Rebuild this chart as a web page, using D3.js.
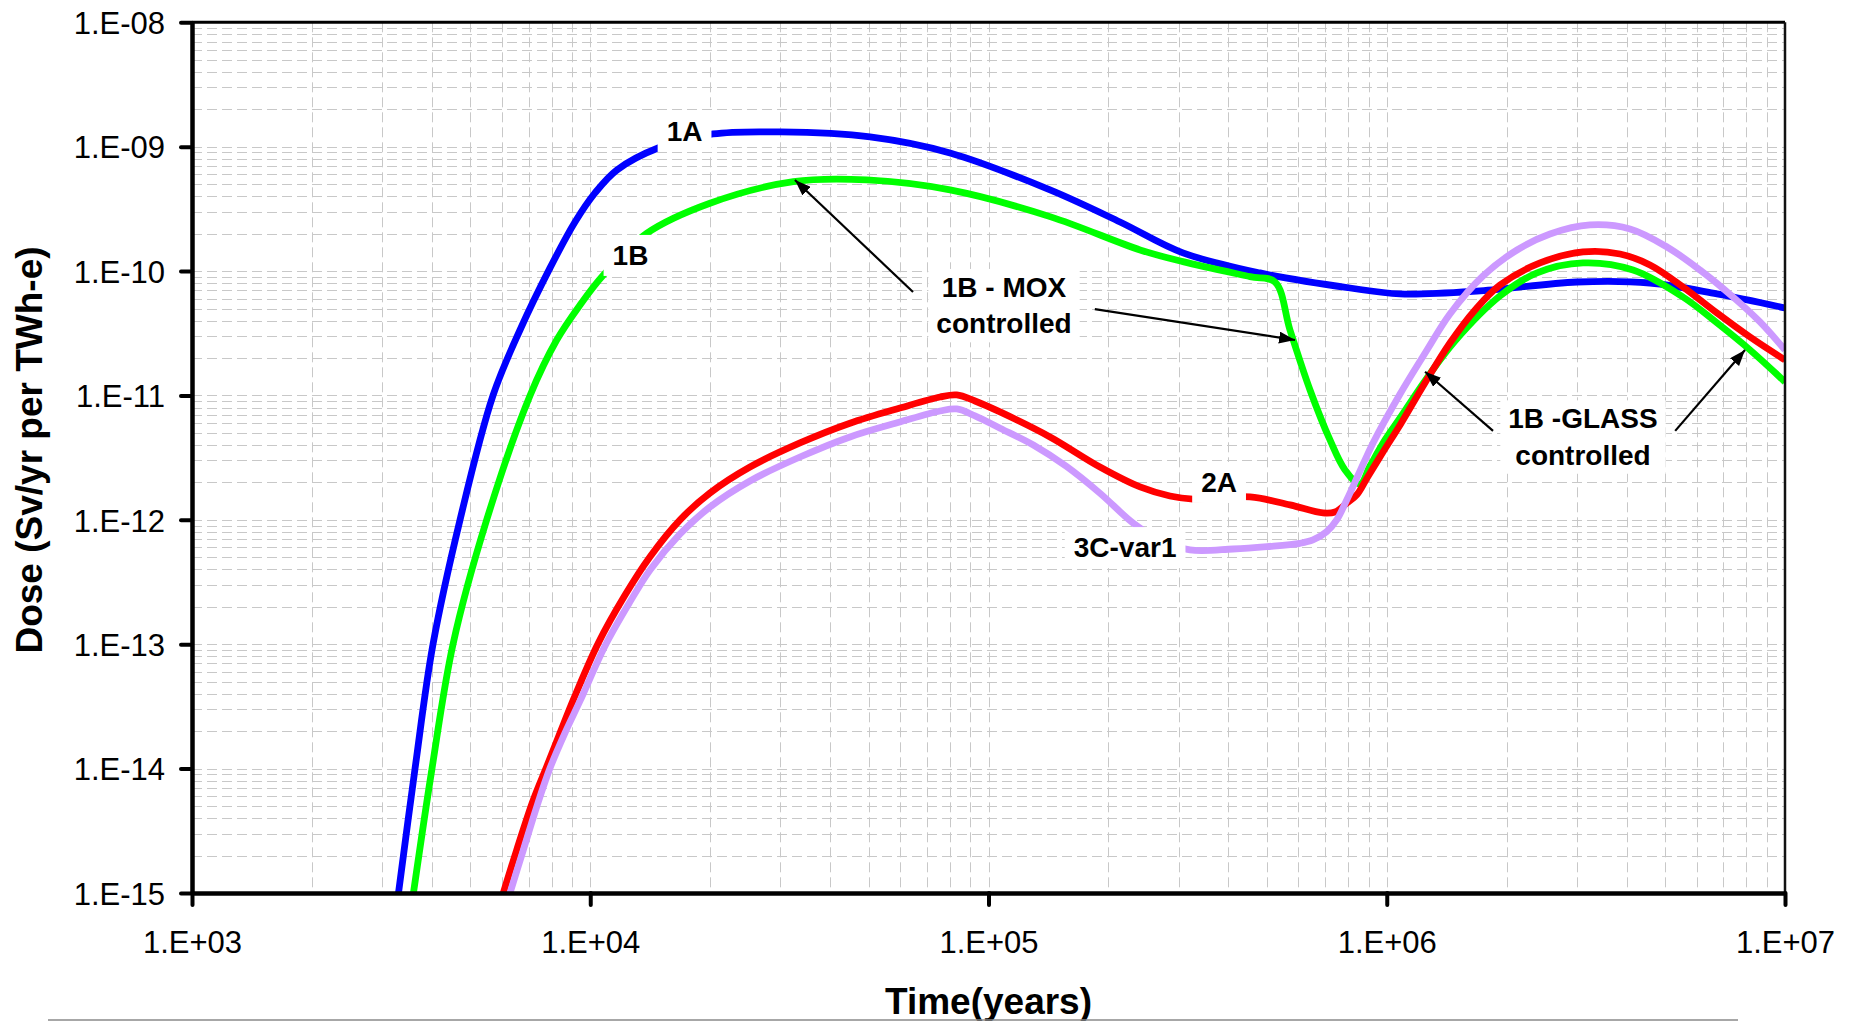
<!DOCTYPE html>
<html>
<head>
<meta charset="utf-8">
<script src="https://cdn.jsdelivr.net/npm/d3@7"></script>
<style>
  html, body { margin: 0; padding: 0; background: #ffffff; }
  svg { display: block; }
  text { font-family: "Liberation Sans", Arial, Helvetica, sans-serif; fill: #000; }
</style>
</head>
<body>
<svg id="chart" width="1849" height="1021"></svg>
<script>
// ---- Dose curves (time in years, dose in Sv/yr per TWh-e) ----
const years1A = [3300, 3631, 4029, 4710, 5700, 6662, 7925, 9156, 10280, 11670, 14800, 20330, 29960, 50410, 80060,
                 142700, 213900, 307800, 480600, 808800, 1080000, 1715000, 3004000, 4581000, 6750000, 10000000];
const dose1A  = [1e-15, 1e-14, 1e-13, 1e-12, 1e-11, 3.36e-11, 1.06e-10, 2.48e-10, 4.25e-10, 6.50e-10, 9.76e-10, 1.265e-9, 1.313e-9, 1.197e-9, 8.90e-10,
                 4.49e-10, 2.48e-10, 1.40e-10, 9.66e-11, 7.31e-11, 6.55e-11, 6.92e-11, 8.17e-11, 8.02e-11, 6.55e-11, 5.05e-11];

const years1B = [3598, 4005, 4523, 5495, 7061, 8237, 9426, 10790, 13860, 19980, 32360, 49450, 80060, 142700, 240200, 307800, 453600,
                 524000, 571500, 641700, 720200, 785600, 856900, 907800, 990000, 1080000, 1262000, 1484000, 1925000, 2384000, 3110000,
                 4153000, 5544000, 6750000, 8171000, 10000000];
const dose1B  = [1e-15, 1e-14, 1e-13, 1e-12, 1e-11, 2.79e-11, 5.34e-11, 9.30e-11, 2.01e-10, 3.51e-10, 5.23e-10, 5.40e-10, 4.49e-10, 2.74e-10, 1.48e-10, 1.19e-10, 9.02e-11,
                 8.17e-11, 3.36e-11, 1.107e-11, 4.39e-12, 2.52e-12, 1.94e-12, 2.71e-12, 4.39e-12, 6.59e-12, 1.382e-11, 2.74e-11, 6.31e-11, 9.66e-11, 1.162e-10,
                 1.02e-10, 6.19e-11, 3.83e-11, 2.32e-11, 1.284e-11];

const years2A = [6049, 6536, 7194, 7775, 8395, 9066, 10470, 12230, 14130, 16810, 19980, 25180, 33620, 44880, 59950, 75530, 83210,
                 92500, 106900, 142700, 190500, 240200, 285600, 326200, 453600, 571500, 691700, 741600, 794900, 842100, 892300,
                 978600, 1080000, 1247000, 1441000, 1666000, 1925000, 2426000, 3110000, 3853000, 4581000, 5544000, 6750000, 8171000, 10000000];
const dose2A  = [1e-15, 2.22e-15, 5.60e-15, 1.04e-14, 1.93e-14, 3.57e-14, 1.02e-13, 2.49e-13, 5.06e-13, 1e-12, 1.645e-12, 2.66e-12, 4.15e-12, 5.98e-12, 7.93e-12, 9.72e-12, 1.009e-11,
                 9.03e-12, 7.37e-12, 4.64e-12, 2.66e-12, 1.84e-12, 1.556e-12, 1.47e-12, 1.528e-12, 1.318e-12, 1.136e-12, 1.157e-12, 1.367e-12, 1.60e-12, 2.17e-12,
                 3.51e-12, 5.79e-12, 1.26e-11, 2.64e-11, 4.87e-11, 7.73e-11, 1.162e-10, 1.424e-10, 1.372e-10, 1.119e-10, 7.45e-11, 4.60e-11, 2.95e-11, 1.93e-11];

const years3C = [6288, 6780, 7350, 7925, 8643, 9426, 10890, 12580, 14130, 16810, 19980, 25180, 33620, 44880, 59950, 75530, 83210,
                 92500, 106900, 129600, 157100, 190500, 231000, 269600, 320600, 411200, 500500, 605600, 652800, 706800, 748800, 793400,
                 856900, 923800, 1080000, 1262000, 1441000, 1744000, 2124000, 2570000, 3239000, 4082000, 5054000, 6117000, 7404000, 8654000, 10000000];
const dose3C  = [1e-15, 2.18e-15, 5.01e-15, 1.01e-14, 1.94e-14, 3.50e-14, 9.69e-14, 2.19e-13, 3.96e-13, 7.70e-13, 1.27e-12, 2.055e-12, 3.20e-12, 4.64e-12, 6.12e-12, 7.50e-12, 7.79e-12,
                 6.84e-12, 5.45e-12, 4.00e-12, 2.68e-12, 1.636e-12, 9.39e-13, 6.89e-13, 5.73e-13, 5.83e-13, 6.09e-13, 6.48e-13, 6.89e-13, 8.04e-13, 9.98e-13, 1.445e-12,
                 2.47e-12, 4.15e-12, 1.028e-11, 2.32e-11, 4.52e-11, 9.13e-11, 1.477e-10, 1.987e-10, 2.35e-10, 2.18e-10, 1.562e-10, 1.02e-10, 6.19e-11, 3.90e-11, 2.32e-11];

const seriesNames  = ["1A", "1B", "2A", "3C-var1"];
const seriesColors = ["#0000FF", "#00FF00", "#FF0000", "#CC99FF"];
const seriesYears  = [years1A, years1B, years2A, years3C];
const seriesDose   = [dose1A, dose1B, dose2A, dose3C];

// ---- Axis ticks ----
const xTickValues = [1e3, 1e4, 1e5, 1e6, 1e7];
const xTickLabels = ["1.E+03", "1.E+04", "1.E+05", "1.E+06", "1.E+07"];
const yTickValues = [1e-8, 1e-9, 1e-10, 1e-11, 1e-12, 1e-13, 1e-14, 1e-15];
const yTickLabels = ["1.E-08", "1.E-09", "1.E-10", "1.E-11", "1.E-12", "1.E-13", "1.E-14", "1.E-15"];

// ---- Curve labels [text, years, dose] (label centre) ----
const curveLabels = [
  ["1A", 17250, 1.34e-9],
  ["1B", 12620, 1.35e-10],
  ["2A", 379300, 2.02e-12],
  ["3C-var1", 220300, 6.05e-13]
];
// ---- Callouts: text lines, centre, and arrows [fromYears, fromDose, toYears, toDose] ----
const callouts = [
  { lines: ["1B - MOX", "controlled"], at: [109400, 5.33e-11],
    arrows: [[64640, 6.79e-11, 32660, 5.39e-10], [184900, 4.95e-11, 588400, 2.79e-11]] },
  { lines: ["1B -GLASS", "controlled"], at: [3110000, 4.68e-12],
    arrows: [[1849000, 5.19e-12, 1248000, 1.55e-11], [5300000, 5.19e-12, 7935000, 2.32e-11]] }
];

const W = 1849, H = 1021;
const plot = { left: 192, right: 1785, top: 22.3, bottom: 893 };

const svg = d3.select("#chart");

const x = d3.scaleLog().domain([1e3, 1e7]).range([plot.left, plot.right]);
const y = d3.scaleLog().domain([1e-15, 1e-8]).range([plot.bottom, plot.top]);

svg.append("rect").attr("width", W).attr("height", H).attr("fill", "#fff");

// ---- grid (major + minor, dashed) ----
const grid = svg.append("g").attr("stroke", "#c8c8c8").attr("stroke-width", 1)
  .attr("stroke-dasharray", "10,5").attr("fill", "none");
const xGrid = [];
for (let e = 3; e < 7; e++) for (let k = 1; k <= 9; k++) { const v = k * Math.pow(10, e); if (v > 1e3) xGrid.push(v); }
const yGrid = [];
for (let e = -15; e < -8; e++) for (let k = 1; k <= 9; k++) { const v = k * Math.pow(10, e); if (v > 1e-15 * 1.0001) yGrid.push(v); }
grid.selectAll("line.gx").data(xGrid).join("line").attr("class", "gx")
  .attr("x1", d => Math.round(x(d)) + 0.5).attr("x2", d => Math.round(x(d)) + 0.5)
  .attr("y1", plot.top).attr("y2", plot.bottom);
grid.selectAll("line.gy").data(yGrid).join("line").attr("class", "gy")
  .attr("y1", d => Math.round(y(d)) + 0.5).attr("y2", d => Math.round(y(d)) + 0.5)
  .attr("x1", plot.left).attr("x2", plot.right);

// ---- curves ----
svg.append("clipPath").attr("id", "plotClip").append("rect")
  .attr("x", plot.left).attr("y", plot.top)
  .attr("width", plot.right - plot.left).attr("height", plot.bottom - plot.top);

const line = d3.line().x(d => x(d[0])).y(d => y(d[1])).curve(d3.curveCatmullRom.alpha(0.5));
const curves = svg.append("g").attr("clip-path", "url(#plotClip)");
seriesNames.forEach((name, i) => {
  const pts = seriesYears[i].map((t, j) => [t, seriesDose[i][j]]);
  curves.append("path").datum(pts)
    .attr("d", line)
    .attr("fill", "none")
    .attr("stroke", seriesColors[i])
    .attr("stroke-width", 6.8)
    .attr("stroke-linejoin", "round");
});

// ---- frame ----
svg.append("line").attr("x1", plot.left).attr("x2", plot.right).attr("y1", plot.top).attr("y2", plot.top)
  .attr("stroke", "#000").attr("stroke-width", 3);
svg.append("line").attr("x1", plot.right).attr("x2", plot.right).attr("y1", plot.top).attr("y2", plot.bottom)
  .attr("stroke", "#111").attr("stroke-width", 2.5);

// ---- axes ----
const yAxis = d3.axisLeft(y).tickValues(yTickValues)
  .tickFormat((d, i) => yTickLabels[i]).tickSize(11).tickSizeOuter(0).tickPadding(16);
const gy = svg.append("g").attr("transform", `translate(${plot.left},0)`).call(yAxis);
gy.select(".domain").attr("stroke", "#000").attr("stroke-width", 4.5);
gy.selectAll(".tick line").attr("stroke", "#000").attr("stroke-width", 4).attr("stroke-linecap", "round");
gy.selectAll(".tick text").attr("font-size", 31).attr("font-family", "Liberation Sans, Arial, sans-serif")
  .attr("dy", "0.36em").attr("fill", "#000");

const xAxis = d3.axisBottom(x).tickValues(xTickValues)
  .tickFormat((d, i) => xTickLabels[i]).tickSize(12).tickSizeOuter(0).tickPadding(26);
const gx = svg.append("g").attr("transform", `translate(0,${plot.bottom})`).call(xAxis);
gx.select(".domain").attr("stroke", "#000").attr("stroke-width", 4.5);
gx.selectAll(".tick line").attr("stroke", "#000").attr("stroke-width", 4).attr("stroke-linecap", "round");
gx.selectAll(".tick text").attr("font-size", 31).attr("font-family", "Liberation Sans, Arial, sans-serif")
  .attr("fill", "#000");

// ---- axis titles ----
svg.append("text").attr("x", (plot.left + plot.right) / 2).attr("y", 1014)
  .attr("text-anchor", "middle").attr("font-size", 37).attr("font-weight", "bold")
  .text("Time(years)");
svg.append("text").attr("transform", "rotate(-90)")
  .attr("x", -450).attr("y", 42)
  .attr("text-anchor", "middle").attr("font-size", 37).attr("font-weight", "bold")
  .text("Dose (Sv/yr per TWh-e)");

// thin rule along the bottom edge
svg.append("line").attr("x1", 48).attr("x2", 1738).attr("y1", 1020).attr("y2", 1020)
  .attr("stroke", "#8a8a8a").attr("stroke-width", 1.5);

// ---- annotations ----
const ann = svg.append("g");
const labelFont = 28;

function boxedText(lines, cx, cy, padX, padY) {
  const g = ann.append("g");
  const rect = g.append("rect").attr("fill", "#fff");
  const lh = labelFont * 1.3;
  const t = g.append("text").attr("text-anchor", "middle").attr("font-size", labelFont)
    .attr("font-weight", "bold");
  lines.forEach((s, k) => {
    t.append("tspan").attr("x", cx)
      .attr("y", cy + (k - (lines.length - 1) / 2) * lh)
      .attr("dy", "0.36em").text(s);
  });
  const bb = t.node().getBBox();
  rect.attr("x", bb.x - padX).attr("y", bb.y - padY)
    .attr("width", bb.width + 2 * padX).attr("height", bb.height + 2 * padY);
}

curveLabels.forEach(([s, t, d]) => boxedText([s], x(t), y(d), 9, 5));

svg.append("defs").append("marker").attr("id", "arrowHead")
  .attr("viewBox", "0 0 16 12").attr("refX", 16).attr("refY", 6)
  .attr("markerWidth", 16).attr("markerHeight", 12)
  .attr("markerUnits", "userSpaceOnUse").attr("orient", "auto")
  .append("path").attr("d", "M0,0 L16,6 L0,12 Z").attr("fill", "#000");

callouts.forEach(c => {
  boxedText(c.lines, x(c.at[0]), y(c.at[1]), 8, 3);
  c.arrows.forEach(a => {
    ann.append("line")
      .attr("x1", x(a[0])).attr("y1", y(a[1]))
      .attr("x2", x(a[2])).attr("y2", y(a[3]))
      .attr("stroke", "#000").attr("stroke-width", 2.2)
      .attr("marker-end", "url(#arrowHead)");
  });
});
</script>
</body>
</html>
